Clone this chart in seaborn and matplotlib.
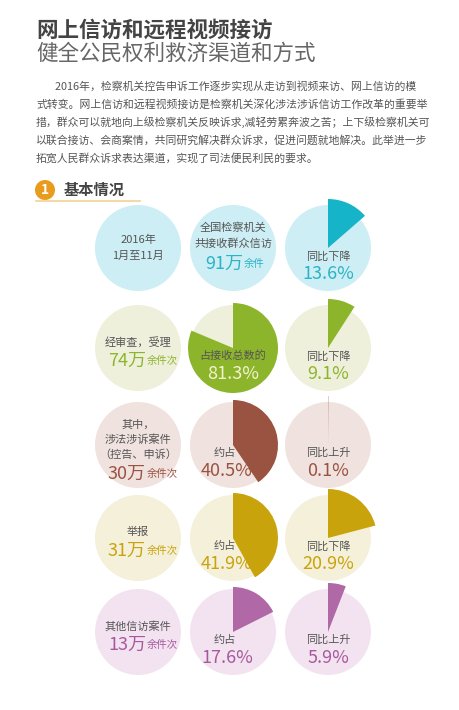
import matplotlib
matplotlib.use("Agg")
import matplotlib.pyplot as plt
import seaborn as sns
from matplotlib.patches import Circle

sns.set_theme(style="white")
plt.rcParams['font.family'] = ['Noto Sans CJK SC', 'DejaVu Sans']

row_bg = ["#cdeef4", "#eef0dc", "#f0e2df", "#f5f0d9", "#f3e3f1"]
row_fg = ["#15b4c8", "#8db52b", "#9b5341", "#c9a30c", "#b068a6"]
num_col = ["#2bb3c6", "#8db52b", "#9b5341", "#c9a30c", "#a65a9d"]
left_lines = [["2016年", "1月至11月"], ["经审查，受理"], ["其中，", "涉法涉诉案件", "（控告、申诉）"], ["举报"], ["其他信访案件"]]
left_nums = [None, "74万", "30万", "31万", "13万"]
mid_share = [None, 81.3, 40.5, 41.9, 17.6]
mid_label = [None, "占接收总数的", "约占", "约占", "约占"]
yoy = [13.6, 9.1, 0.1, 20.9, 5.9]
yoy_label = ["同比下降", "同比下降", "同比上升", "同比下降", "同比上升"]

fig = plt.figure(figsize=(4.59, 7.10), dpi=100)
ax = fig.add_axes([0, 0, 1, 1])
ax.set_axis_off()

cols = [138, 233, 328]
rows = [248, 348, 445, 538, 632]
R = 43

def pie(cx, cy, pct, color, r):
    ax.pie([pct, 100 - pct], colors=[color, (0, 0, 0, 0)], startangle=90, counterclock=False,
           center=(cx, -cy), radius=r, frame=True, wedgeprops=dict(linewidth=0))

for i, cy in enumerate(rows):
    for cx in cols:
        ax.add_patch(Circle((cx, -cy), R, color=row_bg[i], lw=0, zorder=0))
    if mid_share[i] is not None:
        pie(cols[1], cy, mid_share[i], row_fg[i], R + 2)
    pie(cols[2], cy, yoy[i], row_fg[i], R + 6)
    n = len(left_lines[i])
    if left_nums[i] is None:
        for k, t in enumerate(left_lines[i]):
            ax.text(cols[0], -(cy - 8 + 16 * k), t, ha="center", va="center", fontsize=8, color="#555")
    else:
        top = cy - 6 - 7 * (n - 1)
        for k, t in enumerate(left_lines[i]):
            ax.text(cols[0], -(top + 15 * k), t, ha="center", va="center", fontsize=8, color="#555")
        ax.text(cols[0] + 8, -(top + 15 * n + 4), left_nums[i], ha="right", va="center", fontsize=13, color=num_col[i])
        ax.text(cols[0] + 9, -(top + 15 * n + 4), "余件次", ha="left", va="center", fontsize=7.5, color=num_col[i])
    if mid_share[i] is not None:
        ax.text(cols[1] - (0 if i == 1 else 8), -(cy + 8), mid_label[i], ha="center", va="center", fontsize=8, color="#555")
        ax.text(cols[1] - (0 if i == 1 else 6), -(cy + 26), f"{mid_share[i]}%", ha="center", va="center", fontsize=13,
                color="#f2f2d0" if i == 1 else num_col[i])
    ax.text(cols[2], -(cy + 8), yoy_label[i], ha="center", va="center", fontsize=8, color="#555")
    ax.text(cols[2], -(cy + 26), f"{yoy[i]}%", ha="center", va="center", fontsize=13, color=num_col[i])

ax.text(cols[1], -(rows[0] - 20), "全国检察机关", ha="center", va="center", fontsize=8, color="#555")
ax.text(cols[1], -(rows[0] - 4), "共接收群众信访", ha="center", va="center", fontsize=8, color="#555")
ax.text(cols[1] + 10, -(rows[0] + 16), "91万", ha="right", va="center", fontsize=13, color=num_col[0])
ax.text(cols[1] + 11, -(rows[0] + 16), "余件", ha="left", va="center", fontsize=7.5, color=num_col[0])

ax.text(36, -30, "网上信访和远程视频接访", fontsize=15.5, fontweight="bold", color="#444", va="center")
ax.text(36, -54, "健全公民权利救济渠道和方式", fontsize=15.5, color="#666", va="center")
para = ["        2016年，检察机关控告申诉工作逐步实现从走访到视频来访、网上信访的模",
        "式转变。网上信访和远程视频接访是检察机关深化涉法涉诉信访工作改革的重要举",
        "措，群众可以就地向上级检察机关反映诉求,减轻劳累奔波之苦；上下级检察机关可",
        "以联合接访、会商案情，共同研究解决群众诉求，促进问题就地解决。此举进一步",
        "拓宽人民群众诉求表达渠道，实现了司法便民利民的要求。"]
for k, t in enumerate(para):
    ax.text(36, -(86 + 18 * k), t, fontsize=7.8, color="#555", va="center")
ax.add_patch(Circle((45, -190), 10, color="#e89b1c", lw=0))
ax.text(45, -190, "1", ha="center", va="center", fontsize=10, color="white", fontweight="bold")
ax.text(64, -190, "基本情况", fontsize=11, fontweight="bold", color="#444", va="center")
ax.plot([36, 140], [-201, -201], color="#f1d9a8", lw=1.5)

ax.set_xlim(0, 459)
ax.set_ylim(-710, 0)
ax.set_aspect("auto")
ax.set_axis_off()
fig.savefig("out.png", dpi=100)
